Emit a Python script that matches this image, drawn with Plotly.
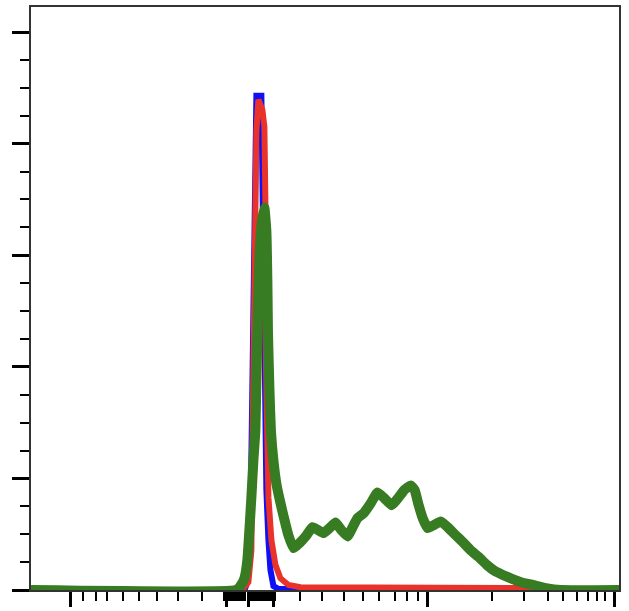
import plotly.graph_objects as go

# x in display channel units (0-1000 across the axis), y in % of max
blue_x = [0, 363, 366.3, 369.7, 373.1, 374.8, 376.5, 378.2, 379.9, 381.6, 383.3, 391.8, 393.5, 395.2,
          396.9, 400.3, 403.8, 407.2, 412.3, 420.8, 850, 1000]
blue_y = [0, 0, 0.9, 3.6, 10.7, 25, 46.4, 66.1, 80.4, 87.5, 88.6, 88.6, 69.6, 46.4,
          30.4, 17.9, 8.9, 3.6, 0.7, 0.2, 0.2, 0]

red_x = [0, 359.5, 369.7, 374.8, 376.5, 378.2, 381.6, 383.3, 386.7, 393.5, 396.9, 398.6, 398.6,
         400.3, 403.8, 408.9, 415.7, 424.2, 437.8, 458.3, 850, 884, 1000]
red_y = [0, 0, 1.4, 7.1, 25, 46.4, 69.6, 82.1, 87.9, 86.1, 83, 69.6, 46.4,
         30.4, 16.6, 8.9, 4.5, 2.1, 0.9, 0.5, 0.35, 0, 0]

green_x = [0, 349, 356, 363, 368, 371.4, 374.8, 378.2, 381.6, 383.3, 385, 388.4, 391.8, 396.9,
           400.3, 402, 403, 405.5, 408, 412.3, 417.4, 424.2, 431, 437.8, 446.3, 456.6, 468.5,
           478.7, 488.9, 497.5, 507.7, 517.9, 528.1, 538.3, 546.9, 555.4, 565.6, 577.5, 589.4,
           601.4, 613.3, 625.2, 635.4, 645.7, 652.5, 659.3, 666.1, 674.6, 684.8, 696.8, 708.7,
           720.6, 734.3, 747.9, 761.5, 775.1, 788.8, 802.4, 816, 833.1, 853.5, 875.6, 901.2, 1000]
green_y = [0, 0, 0.7, 2.1, 5.4, 10.7, 16.6, 23.2, 28.6, 37.5, 46.4, 58.9, 65.2, 68.5,
           64.3, 55.4, 46.4, 36.0, 28.6, 23.2, 19.0, 15.6, 12.6, 9.8, 7.5, 8.4, 9.8,
           11.25, 10.7, 10.2, 11.1, 12.1, 10.7, 9.6, 11.25, 12.9, 13.75, 15.5, 17.5,
           16.4, 15.2, 16.6, 18.0, 18.75, 17.9, 15.2, 12.9, 11.1, 11.6, 12.3, 11.25,
           10.0, 8.6, 7.1, 5.9, 4.5, 3.4, 2.7, 2.1, 1.4, 0.9, 0.35, 0, 0]

x_major_ticks = [67.6, 332, 369.7, 412, 674.6, 991.5]
x_minor_ticks = [88.6, 110.7, 129.5, 156.7, 184.0, 214.7, 250.4, 291.3,
                 329, 336, 339.5, 343, 346.5, 350, 353.5, 357, 360.5, 364, 374, 377.5, 381,
                 384.5, 388, 391.5, 395, 398.5, 402, 405.5, 409, 415.5,
                 458.3, 495.7, 531.5, 563.9, 591.1, 618.4, 638.9, 657.6,
                 783.7, 838.2, 879.1, 904.6, 928.5, 947.2, 962.5, 976.1]
y_major_ticks = [0, 20, 40, 60, 80, 100]
y_minor_ticks = [5, 10, 15, 25, 30, 35, 45, 50, 55, 65, 70, 75, 85, 90, 95]

fig = go.Figure()
fig.add_trace(go.Scatter(x=blue_x, y=blue_y, mode="lines",
                         line=dict(color="#1010f5", width=6), showlegend=False))
fig.add_trace(go.Scatter(x=red_x, y=red_y, mode="lines",
                         line=dict(color="#e8322a", width=6), showlegend=False))
fig.add_trace(go.Scatter(x=green_x, y=green_y, mode="lines",
                         line=dict(color="#377b22", width=10, shape="spline", smoothing=0.4),
                         showlegend=False))

fig.update_layout(
    width=629, height=611,
    margin=dict(l=31, r=10, t=5, b=21),
    paper_bgcolor="white", plot_bgcolor="white",
    xaxis=dict(range=[0, 1000], showgrid=False, zeroline=False,
               showline=True, linecolor="#333333", linewidth=2, mirror=True,
               tickmode="array", tickvals=x_major_ticks,
               ticktext=["" for _ in x_major_ticks], showticklabels=False,
               ticks="outside", ticklen=15, tickwidth=3, tickcolor="black",
               minor=dict(tickmode="array", tickvals=x_minor_ticks, ticks="outside", ticklen=9,
                          tickwidth=2, tickcolor="black", showgrid=False)),
    yaxis=dict(range=[0, 104.5], showgrid=False, zeroline=False,
               showline=True, linecolor="#333333", linewidth=2, mirror=True,
               tickmode="array", tickvals=y_major_ticks,
               ticktext=["" for _ in y_major_ticks], showticklabels=False,
               ticks="outside", ticklen=17, tickwidth=3, tickcolor="black",
               minor=dict(tickmode="array", tickvals=y_minor_ticks, ticks="outside", ticklen=9,
                          tickwidth=2, tickcolor="black", showgrid=False)),
)

fig.write_html("out.html")
